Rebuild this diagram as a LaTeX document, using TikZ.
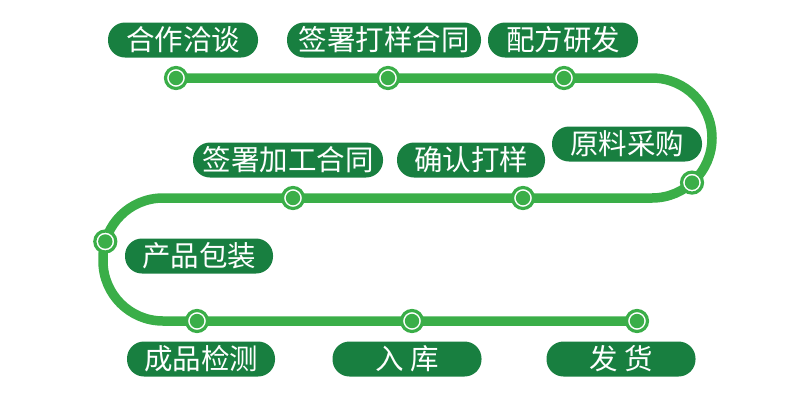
\documentclass[tikz,border=0pt]{standalone}
\usepackage{fontspec}
\newfontfamily\cjk{Noto Sans CJK SC}
\usetikzlibrary{positioning,backgrounds}
\definecolor{trackgreen}{RGB}{58,174,72}
\definecolor{pillgreen}{RGB}{24,127,64}

\begin{document}
\begin{tikzpicture}[
    x=1pt, y=-1pt,
    track/.style={
        draw=trackgreen,
        line width=9.5pt
    },
    station/.style={
        circle,
        draw=trackgreen,
        line width=3.2pt,
        fill=white,
        minimum size=21pt,
        inner sep=0pt,
        path picture={\fill[trackgreen] (path picture bounding box.center) circle (7.2pt);}
    },
    pill/.style={
        rectangle,
        rounded corners=17pt,
        fill=pillgreen,
        text=white,
        minimum width=150pt,
        minimum height=35pt,
        inner sep=0pt,
        font=\cjk\fontsize{28.5}{28.5}\selectfont
    }
]
    \useasboundingbox (0,0) rectangle (800,400);

    % Stations along the track
    \node[station] (st-talk) at (176,78) {};
    \node[station] (st-sample) at (388,78) {};
    \node[station] (st-formula) at (564,78) {};
    \node[station] (st-purchase) at (692,182.6) {};
    \node[station] (st-confirm) at (523,198) {};
    \node[station] (st-contract) at (293,198) {};
    \node[station] (st-pack) at (105.3,241.5) {};
    \node[station] (st-inspect) at (197,321) {};
    \node[station] (st-store) at (412,321) {};
    \node[station] (st-ship) at (637,321) {};

    % Track
    \begin{pgfonlayer}{background}
        \draw[track, rounded corners=60pt] (st-talk.center) -- (712,78) -- (712,198)
            -- (103,198) -- (103,321) -- (st-ship.center);
    \end{pgfonlayer}

    % Labels
    \node[pill] (talk) at (183,40) {合作洽谈};
    \node[pill, minimum width=194pt] (sample) at (384,40) {签署打样合同};
    \node[pill] (formula) at (563,40) {配方研发};
    \node[pill] (purchase) at (627,144) {原料采购};
    \node[pill, minimum width=148pt] (confirm) at (471,160) {确认打样};
    \node[pill, minimum width=190pt] (contract) at (288,160) {签署加工合同};
    \node[pill, minimum width=148pt] (pack) at (199,256) {产品包装};
    \node[pill, minimum width=148pt] (inspect) at (201,359) {成品检测};
    \node[pill, minimum width=149pt] (store) at (407,359) {入 库};
    \node[pill, minimum width=149pt] (ship) at (621,359) {发 货};
\end{tikzpicture}
\end{document}
